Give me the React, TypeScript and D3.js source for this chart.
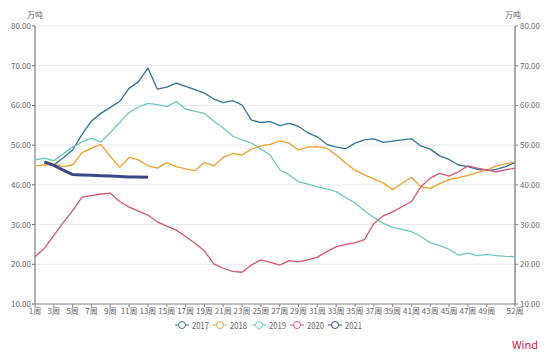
import React from "react";
import * as d3 from "d3";

const weeks: number[] = d3.range(1, 53);
const tickWeeks: number[] = [1, 3, 5, 7, 9, 11, 13, 15, 17, 19, 21, 23, 25, 27, 29, 31, 33, 35, 37, 39, 41, 43, 45, 47, 49, 52];
const yTicks: number[] = [10, 20, 30, 40, 50, 60, 70, 80];
const unitLabel = "万吨";
const seriesNames = ["2017", "2018", "2019", "2020", "2021"];
const seriesColors = ["#2e7499", "#f0a02e", "#6ec8c1", "#d65670", "#3a4886"];

const s2017: (number | null)[] = [null, 45.5, 45.0, 46.8, 48.8, 52.7, 56.1, 58.0, 59.5, 61.0, 64.3, 66.0, 69.4, 64.1, 64.6, 65.6, 64.8, 64.0, 63.1, 61.6, 60.7, 61.2, 60.1, 56.3, 55.7, 55.9, 54.9, 55.5, 54.7, 53.1, 52.1, 50.2, 49.5, 49.1, 50.5, 51.3, 51.6, 50.7, 51.0, 51.3, 51.6, 49.8, 49.0, 47.3, 46.4, 45.0, 44.6, 43.9, 43.6, 43.9, 44.6, 45.6];
const s2018: (number | null)[] = [44.8, 45.0, 45.2, 44.6, 45.0, 48.1, 49.2, 50.2, 47.2, 44.4, 46.9, 46.3, 44.8, 44.2, 45.6, 44.6, 44.0, 43.6, 45.6, 44.8, 46.9, 47.9, 47.5, 49.0, 49.8, 50.2, 51.1, 50.5, 48.8, 49.5, 49.6, 49.2, 47.5, 45.5, 43.7, 42.5, 41.5, 40.5, 38.8, 40.4, 41.9, 39.5, 39.1, 40.3, 41.3, 41.8, 42.4, 43.1, 43.8, 44.7, 45.3, 45.8];
const s2019: (number | null)[] = [46.3, 46.7, 46.1, 47.8, 49.5, 50.8, 51.7, 50.8, 53.2, 55.7, 58.2, 59.6, 60.5, 60.2, 59.7, 61.0, 59.1, 58.5, 58.0, 56.0, 54.3, 52.3, 51.3, 50.5, 49.0, 47.5, 43.8, 42.5, 40.8, 40.2, 39.5, 39.0, 38.3, 36.8, 35.5, 33.5, 31.8, 30.3, 29.3, 28.8, 28.2, 27.0, 25.4, 24.7, 23.8, 22.3, 22.8, 22.2, 22.5, 22.2, 22.0, 21.9];
const s2020: (number | null)[] = [21.9, 24.0, 27.3, 30.5, 33.5, 36.9, 37.3, 37.7, 37.9, 35.8, 34.4, 33.4, 32.4, 30.7, 29.6, 28.6, 27.0, 25.3, 23.4, 20.1, 19.0, 18.2, 18.0, 19.8, 21.1, 20.5, 19.8, 20.9, 20.6, 21.1, 21.8, 23.2, 24.4, 25.0, 25.4, 26.2, 30.2, 32.2, 33.2, 34.5, 35.8, 39.5, 41.7, 42.9, 42.2, 43.3, 44.8, 44.2, 43.8, 43.3, 43.8, 44.2];
const s2021: (number | null)[] = [null, 45.8, 44.9, 43.7, 42.6, 42.5, 42.4, 42.3, 42.2, 42.1, 42.0, 42.0, 41.9];

const allSeries = [s2017, s2018, s2019, s2020, s2021];

export default function App() {
  const W = 550, H = 357;
  const left = 35, right = 515, top = 26, bottom = 304;
  const x = d3.scaleLinear().domain([1, 52]).range([left, right]);
  const y = d3.scaleLinear().domain([10, 80]).range([bottom, top]);
  const font = "'Noto Sans CJK SC', 'Noto Sans', sans-serif";

  const line = d3
    .line<number | null>()
    .defined((d) => d != null)
    .x((_, i) => x(weeks[i]))
    .y((d) => y(d as number));

  const legendX = [182, 220, 259, 297, 335];
  const legendY = 325;

  return (
    <svg width={W} height={H} style={{ position: "absolute", left: 0, top: 0, background: "#fff" }} fontFamily={font}>
      {yTicks.map((t) => (
        <line key={"g" + t} x1={left} x2={right} y1={y(t)} y2={y(t)} stroke="#e9e9e9" strokeWidth={1} />
      ))}
      <line x1={left} x2={left} y1={top} y2={bottom} stroke="#666" strokeWidth={1} />
      {yTicks.map((t) => (
        <g key={"ly" + t}>
          <line x1={left - 3} x2={left} y1={y(t)} y2={y(t)} stroke="#666" />
          <text x={left - 4} y={y(t) + 3} fontSize={8} fill="#666" textAnchor="end">
            {t.toFixed(2)}
          </text>
        </g>
      ))}
      <line x1={right} x2={right} y1={top} y2={bottom} stroke="#aaa" strokeWidth={2} />
      {yTicks.map((t) => (
        <g key={"ry" + t}>
          <line x1={right} x2={right + 3} y1={y(t)} y2={y(t)} stroke="#888" />
          <text x={right + 5} y={y(t) + 3} fontSize={8} fill="#666" textAnchor="start">
            {t.toFixed(2)}
          </text>
        </g>
      ))}
      <text x={left} y={18} fontSize={8} fill="#666" textAnchor="middle">{unitLabel}</text>
      <text x={right - 2} y={18} fontSize={8} fill="#666" textAnchor="middle">{unitLabel}</text>
      <line x1={left} x2={right} y1={bottom} y2={bottom} stroke="#888" strokeWidth={1} />
      {tickWeeks.map((w) => (
        <g key={"x" + w}>
          <line x1={x(w)} x2={x(w)} y1={bottom} y2={bottom + 3} stroke="#888" />
          <text x={x(w)} y={bottom + 10} fontSize={8} fill="#666" textAnchor="middle">
            {w + "周"}
          </text>
        </g>
      ))}
      {allSeries.map((s, i) => (
        <path
          key={"s" + i}
          d={line(s) || ""}
          fill="none"
          stroke={seriesColors[i]}
          strokeWidth={i === 4 ? 3 : 1.3}
          strokeLinejoin="round"
        />
      ))}
      {seriesNames.map((n, i) => (
        <g key={"lg" + i}>
          <line x1={legendX[i] - 7} x2={legendX[i] + 7} y1={legendY} y2={legendY} stroke={seriesColors[i]} strokeWidth={1} />
          <circle cx={legendX[i]} cy={legendY} r={3.5} fill="#fff" stroke={seriesColors[i]} strokeWidth={1} />
          <text x={legendX[i] + 10} y={legendY + 3.5} fontSize={9.5} fill="#666" textLength={17} lengthAdjust="spacingAndGlyphs">{n}</text>
        </g>
      ))}
      <text x={525} y={349} fontSize={11} fill="#d0213f" textAnchor="middle">Wind</text>
    </svg>
  );
}
